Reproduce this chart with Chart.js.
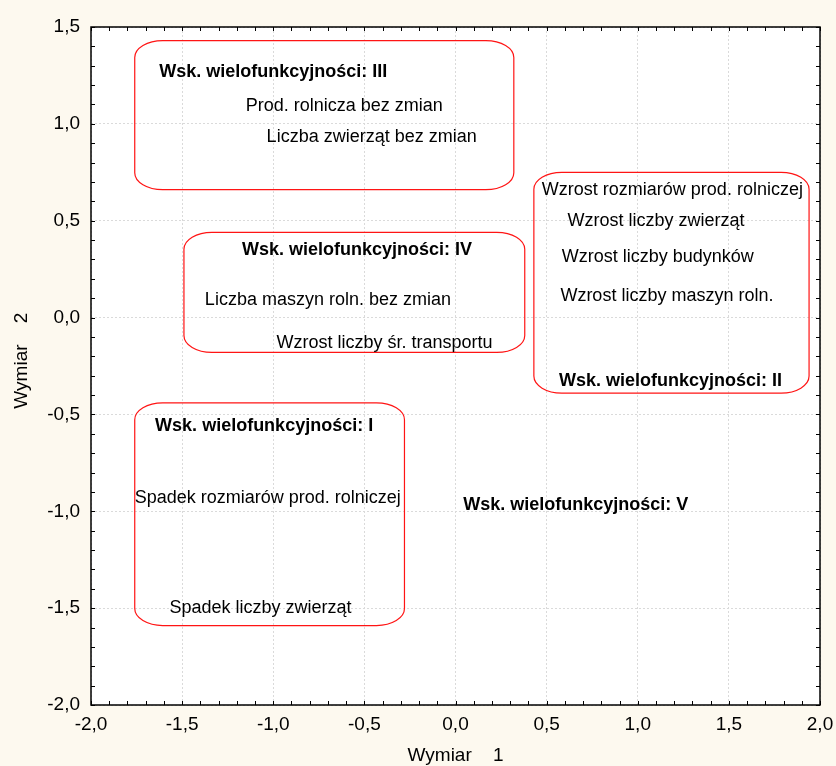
<!DOCTYPE html>
<html>
<head>
<meta charset="utf-8">
<script src="https://cdn.jsdelivr.net/npm/chart.js@4.4.1/dist/chart.umd.min.js"></script>
<style>
  html, body { margin:0; padding:0; background:#fdf9ef; }
  #wrap { width:836px; height:766px; position:relative; }
</style>
</head>
<body>
<div id="wrap"><canvas id="chart"></canvas></div>
<script>
/* ---------- Data ---------- */
const labelTexts = [
  'Wsk. wielofunkcyjności: III',
  'Prod. rolnicza bez zmian',
  'Liczba zwierząt bez zmian',
  'Wzrost rozmiarów prod. rolniczej',
  'Wzrost liczby zwierząt',
  'Wzrost liczby budynków',
  'Wzrost liczby maszyn roln.',
  'Wsk. wielofunkcyjności: II',
  'Wsk. wielofunkcyjności: IV',
  'Liczba maszyn roln. bez zmian',
  'Wzrost liczby śr. transportu',
  'Wsk. wielofunkcyjności: I',
  'Spadek rozmiarów prod. rolniczej',
  'Spadek liczby zwierząt',
  'Wsk. wielofunkcyjności: V'
];
const labelX = [-1.00, -0.61, -0.46, 1.19, 1.10, 1.11, 1.16, 1.18, -0.54, -0.70, -0.39, -1.05, -1.03, -1.07, 0.66];
const labelY = [1.27, 1.09, 0.93, 0.66, 0.50, 0.31, 0.11, -0.33, 0.35, 0.09, -0.13, -0.56, -0.93, -1.50, -0.97];
const labelBold = [true, false, false, false, false, false, false, true, true, false, false, true, false, false, true];

// group frames (data coordinates)
const boxLeft   = [-1.76, -1.49, 0.43, -1.76];
const boxRight  = [ 0.32,  0.38, 1.94, -0.28];
const boxTop    = [ 1.43,  0.44, 0.75, -0.44];
const boxBottom = [ 0.66, -0.18, -0.39, -1.59];

const xMin = -2, xMax = 2, yMin = -2, yMax = 1.5, axisStep = 0.5;

/* ---------- Helpers ---------- */
const FONT = '"Liberation Sans", Arial, sans-serif';
const fmt = v => v.toFixed(1).replace('.', ',');

function roundBox(ctx, l, t, r, b, rx, ry){
  ctx.beginPath();
  ctx.moveTo(l + rx, t);
  ctx.lineTo(r - rx, t);
  ctx.ellipse(r - rx, t + ry, rx, ry, 0, -Math.PI/2, 0);
  ctx.lineTo(r, b - ry);
  ctx.ellipse(r - rx, b - ry, rx, ry, 0, 0, Math.PI/2);
  ctx.lineTo(l + rx, b);
  ctx.ellipse(l + rx, b - ry, rx, ry, 0, Math.PI/2, Math.PI);
  ctx.lineTo(l, t + ry);
  ctx.ellipse(l + rx, t + ry, rx, ry, 0, Math.PI, 1.5*Math.PI);
  ctx.closePath();
  ctx.stroke();
}

const decor = {
  id: 'decor',
  beforeDraw(chart){
    const {ctx, chartArea:a} = chart;
    ctx.save();
    ctx.fillStyle = '#fdf9ef';
    ctx.fillRect(0, 0, chart.width, chart.height);
    ctx.fillStyle = '#ffffff';
    ctx.fillRect(a.left, a.top, a.right - a.left, a.bottom - a.top);
    ctx.restore();
  },
  afterDatasetsDraw(chart){
    const {ctx, chartArea:a, scales:{x, y}} = chart;
    ctx.save();

    // red frames
    ctx.strokeStyle = '#ff1414';
    ctx.lineWidth = 1.2;
    boxLeft.forEach((_, i) => {
      roundBox(ctx,
        x.getPixelForValue(boxLeft[i]), y.getPixelForValue(boxTop[i]),
        x.getPixelForValue(boxRight[i]), y.getPixelForValue(boxBottom[i]), 28, 17);
    });

    // point labels
    ctx.fillStyle = '#000';
    ctx.textAlign = 'center';
    ctx.textBaseline = 'middle';
    labelTexts.forEach((txt, i) => {
      ctx.font = (labelBold[i] ? 'bold ' : '') + '18px ' + FONT;
      ctx.fillText(txt, x.getPixelForValue(labelX[i]), y.getPixelForValue(labelY[i]));
    });

    // axis frame + inward ticks
    ctx.strokeStyle = '#000';
    ctx.lineWidth = 1.5;
    ctx.strokeRect(a.left, a.top, a.right - a.left, a.bottom - a.top);
    ctx.lineWidth = 1;
    ctx.beginPath();
    for(let k = -20; k <= 20; k++){
      const px = Math.round(x.getPixelForValue(k / 10)) + 0.5;
      ctx.moveTo(px, a.bottom); ctx.lineTo(px, a.bottom - 4);
      ctx.moveTo(px, a.top);    ctx.lineTo(px, a.top + 4);
    }
    for(let k = -20; k <= 15; k++){
      const py = Math.round(y.getPixelForValue(k / 10)) + 0.5;
      ctx.moveTo(a.left, py);   ctx.lineTo(a.left + 4, py);
      ctx.moveTo(a.right, py);  ctx.lineTo(a.right - 4, py);
    }
    ctx.stroke();
    ctx.restore();
  }
};

/* ---------- Chart ---------- */
const tickFont = { family: FONT, size: 19 };
const titleFont = { family: FONT, size: 19 };

new Chart(document.getElementById('chart'), {
  type: 'scatter',
  data: {
    datasets: [{
      data: labelX.map((v, i) => ({ x: v, y: labelY[i] })),
      pointRadius: 0,
      pointHoverRadius: 0
    }]
  },
  options: {
    responsive: true,
    maintainAspectRatio: false,
    animation: false,
    events: [],
    layout: { padding: { left: 0, right: 16, top: 27, bottom: 0 } },
    plugins: { legend: { display: false }, tooltip: { enabled: false } },
    scales: {
      x: {
        type: 'linear', min: xMin, max: xMax,
        ticks: { stepSize: axisStep, callback: v => fmt(v), color: '#000', font: tickFont, padding: 8 },
        grid: { color: '#dadada', lineWidth: 1, drawTicks: false },
        border: { display: false, dash: [2, 2] },
        title: { display: true, text: 'Wymiar    1', color: '#000', font: titleFont, padding: { top: 0, bottom: -1.5 } },
        afterFit: s => { s.height = 61; s.paddingLeft = 0; s.paddingRight = 0; }
      },
      y: {
        type: 'linear', min: yMin, max: yMax,
        ticks: { stepSize: axisStep, callback: v => fmt(v), color: '#000', font: tickFont, padding: 11 },
        grid: { color: '#dadada', lineWidth: 1, drawTicks: false },
        border: { display: false, dash: [2, 2] },
        title: { display: true, text: '  Wymiar    2', color: '#000', font: titleFont, padding: { top: 10, bottom: 0 } },
        afterFit: s => { s.width = 91; s.paddingTop = 0; s.paddingBottom = 0; }
      }
    }
  },
  plugins: [decor]
});
</script>
</body>
</html>
